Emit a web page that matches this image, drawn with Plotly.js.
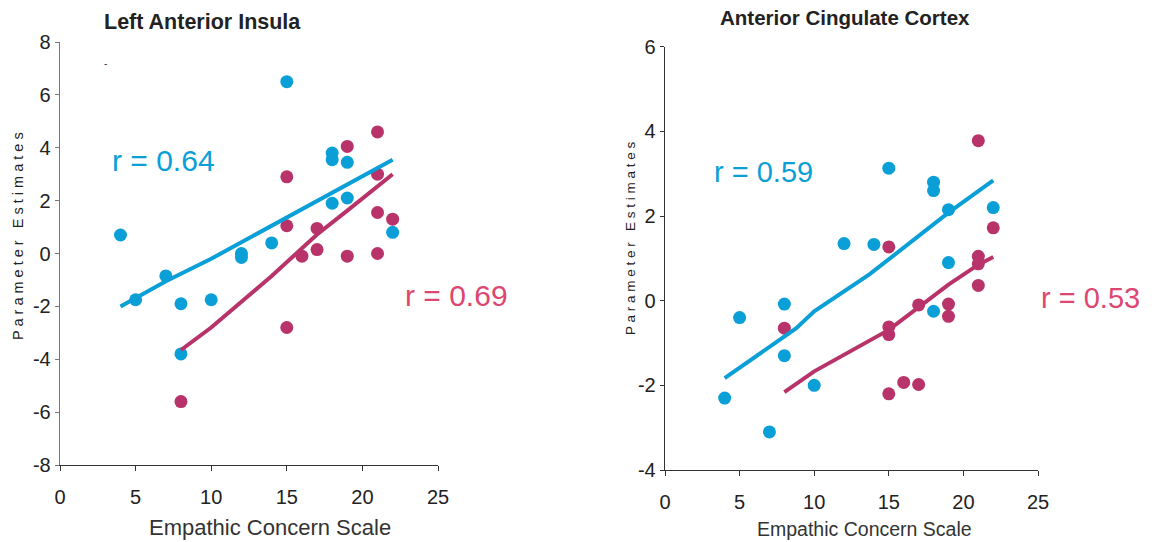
<!DOCTYPE html>
<html>
<head>
<meta charset="utf-8">
<script src="https://cdn.plot.ly/plotly-3.0.1.min.js"></script>
<style>html,body{margin:0;padding:0;background:#fff;}#chart{width:1166px;height:542px;}</style>
</head>
<body>
<div id="chart"></div>
<script>
// ---- Left Anterior Insula ----
const insulaBlueX = [4, 5, 7, 8, 8, 10, 12, 12, 14, 15, 18, 18, 18, 19, 19, 22];
const insulaBlueY = [0.7, -1.75, -0.85, -1.9, -3.8, -1.75, 0.0, -0.15, 0.4, 6.5, 3.8, 3.55, 1.9, 3.45, 2.1, 0.8];
const insulaRedX = [8, 15, 15, 15, 16, 17, 17, 19, 19, 21, 21, 21, 21, 22];
const insulaRedY = [-5.6, 2.9, 1.05, -2.8, -0.1, 0.95, 0.15, 4.05, -0.1, 4.6, 3.0, 1.55, 0.0, 1.3];
const insulaBlueFitX = [4, 7, 10, 12, 15, 18, 19, 22];
const insulaBlueFitY = [-2.0, -1.05, -0.2, 0.42, 1.35, 2.3, 2.6, 3.55];
const insulaRedFitX = [8, 10, 14, 15, 17, 19, 22];
const insulaRedFitY = [-3.65, -2.8, -0.85, -0.33, 0.72, 1.62, 3.0];

// ---- Anterior Cingulate Cortex ----
const accBlueX = [4, 5, 7, 8, 8, 10, 12, 14, 15, 18, 18, 18, 19, 19, 22];
const accBlueY = [-2.3, -0.4, -3.1, -0.08, -1.3, -2.0, 1.35, 1.33, 3.13, 2.8, 2.6, -0.25, 2.15, 0.9, 2.2];
const accRedX = [8, 15, 15, 15, 15, 16, 17, 17, 19, 19, 21, 21, 21, 21, 22];
const accRedY = [-0.65, 1.27, -0.62, -0.8, -2.2, -1.93, -0.1, -1.98, -0.08, -0.37, 3.78, 1.05, 0.87, 0.36, 1.72];
const accBlueFitX = [4, 8.8, 10, 13.7, 19, 22];
const accBlueFitY = [-1.83, -0.65, -0.25, 0.62, 2.08, 2.84];
const accRedFitX = [8, 10, 15, 19, 21, 22];
const accRedFitY = [-2.16, -1.67, -0.69, 0.38, 0.85, 1.03];

const xTicks = [0, 5, 10, 15, 20, 25];
const insulaYTicks = [-8, -6, -4, -2, 0, 2, 4, 6, 8];
const accYTicks = [-4, -2, 0, 2, 4, 6];

const panelTitles = ["Left Anterior Insula", "Anterior Cingulate Cortex"];
const xTitle = "Empathic Concern Scale";
const yTitle = "Parameter Estimates";
const rLabels = ["r = 0.64", "r = 0.69", "r = 0.59", "r = 0.53"];

const BLUE = "#0a9fd6";
const RED = "#b8336a";
const RED_TXT = "#dc4670";

function pts(x, y, color, xa, ya) {
  return {x: x, y: y, mode: "markers", type: "scatter", xaxis: xa, yaxis: ya,
    marker: {color: color, size: 13}, hoverinfo: "skip", cliponaxis: false};
}
function fit(x, y, color, xa, ya) {
  return {x: x, y: y, mode: "lines", type: "scatter", xaxis: xa, yaxis: ya,
    line: {color: color, width: 4}, hoverinfo: "skip"};
}

const data = [
  pts(insulaBlueX, insulaBlueY, BLUE, "x", "y"),
  pts(insulaRedX, insulaRedY, RED, "x", "y"),
  fit(insulaBlueFitX, insulaBlueFitY, BLUE, "x", "y"),
  fit(insulaRedFitX, insulaRedFitY, RED, "x", "y"),
  pts(accBlueX, accBlueY, BLUE, "x2", "y2"),
  pts(accRedX, accRedY, RED, "x2", "y2"),
  fit(accBlueFitX, accBlueFitY, BLUE, "x2", "y2"),
  fit(accRedFitX, accRedFitY, RED, "x2", "y2")
];

const W = 1166, H = 542;
const tickFont = {family: "Liberation Sans, Arial, sans-serif", size: 20, color: "#222"};

function xaxis(domain, anchor) {
  return {domain: domain, anchor: anchor, range: [0, 25], tickvals: xTicks, ticktext: xTicks.map(String),
    showgrid: false, zeroline: false, showline: true, linecolor: "#333", linewidth: 1.3,
    ticks: "outside", ticklen: 5, tickcolor: "#333", tickfont: tickFont, ticklabelstandoff: 9, fixedrange: true};
}
function yaxis(domain, anchor, range, ticks, lc) {
  return {domain: domain, anchor: anchor, range: range, tickvals: ticks, ticktext: ticks.map(String),
    showgrid: false, zeroline: false, showline: true, linecolor: lc, linewidth: 1.3,
    ticks: "outside", ticklen: 4, tickcolor: lc, tickfont: tickFont, fixedrange: true};
}

function px(x) { return x / W; }
function py(y) { return 1 - y / H; }

function ann(text, x, y, size, color, opts) {
  return Object.assign({text: text, x: px(x), y: py(y), xref: "paper", yref: "paper",
    xanchor: "center", yanchor: "middle", showarrow: false,
    font: {family: "Liberation Sans, Arial, sans-serif", size: size, color: color}}, opts || {});
}

const spaced = yTitle.split("").join(" ");

const layout = {
  width: W, height: H,
  margin: {l: 0, r: 0, t: 0, b: 0},
  paper_bgcolor: "#fff", plot_bgcolor: "#fff",
  showlegend: false,
  xaxis: xaxis([px(60), px(438)], "y"),
  yaxis: yaxis([py(465), py(42)], "x", [-8, 8], insulaYTicks, "#777"),
  xaxis2: xaxis([px(665), px(1038)], "y2"),
  yaxis2: yaxis([py(470), py(46.7)], "x2", [-4, 6], accYTicks, "#333"),
  annotations: [
    ann("<b>" + panelTitles[0] + "</b>", 202, 22, 21.5, "#222"),
    ann("<b>" + panelTitles[1] + "</b>", 845, 18, 20.5, "#222"),
    ann(xTitle, 270, 527, 22, "#333"),
    ann(xTitle, 864, 529, 19.5, "#333"),
    ann(spaced, 18, 236, 14.5, "#222", {textangle: -90}),
    ann(spaced, 630, 238, 13.5, "#222", {textangle: -90}),
    ann(rLabels[0], 163, 160, 30, BLUE),
    ann(rLabels[1], 456, 295, 30, RED_TXT),
    ann(rLabels[2], 763, 172, 29, BLUE),
    ann(rLabels[3], 1090, 298, 29, RED_TXT),
    ann("-", 105, 64, 10, "#333")
  ]
};

Plotly.newPlot("chart", data, layout, {displayModeBar: false, staticPlot: true});
</script>
</body>
</html>
